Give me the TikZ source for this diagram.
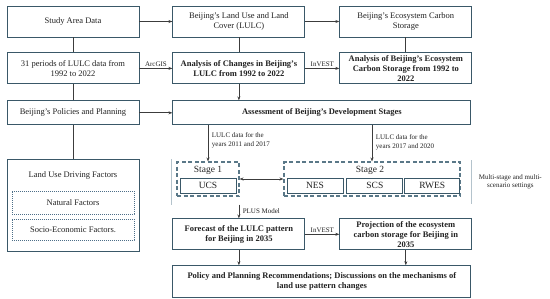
\documentclass[tikz,border=0pt]{standalone}
\usepackage{fontspec}
\setmainfont{Liberation Serif}
\usetikzlibrary{arrows.meta, positioning}
\definecolor{boxLine}{HTML}{3A5868}
\definecolor{stageLine}{HTML}{5A7888}
\definecolor{frameLine}{HTML}{B4C3CC}
\definecolor{factorLine}{HTML}{4D6F88}
\definecolor{arrowGray}{HTML}{3C3C3C}
\definecolor{textGray}{HTML}{222222}

\begin{document}
\begin{tikzpicture}[
    x=1pt, y=-1pt,
    node distance=15pt and 33pt,
    box/.style={
        draw=boxLine, line width=0.9pt, fill=white, minimum width=132pt, minimum height=31pt,
        inner xsep=1.5pt, inner ysep=0.5pt, align=center, font=\fontsize{8.5}{10}\selectfont, text=textGray
    },
    boldbox/.style={box, font=\fontsize{8.5}{10}\selectfont\bfseries},
    plain/.style={font=\fontsize{8.5}{10}\selectfont, text=textGray, inner sep=1.5pt},
    lbl/.style={font=\fontsize{7}{8.6}\selectfont, text=textGray, inner sep=1.5pt},
    stagebox/.style={draw=stageLine, line width=1.1pt, dash pattern=on 4pt off 2.5pt, minimum width=62pt, minimum height=34pt},
    stagelbl/.style={font=\fontsize{9.5}{10}\selectfont, text=textGray, inner sep=1pt},
    scen/.style={box, minimum width=56pt, minimum height=15pt, font=\fontsize{9.5}{10}\selectfont},
    factor/.style={
        draw=factorLine, line width=0.7pt, dash pattern=on 1.2pt off 0.8pt, minimum width=122pt,
        align=center, font=\fontsize{8.5}{10}\selectfont, text=textGray
    },
    link/.style={draw=arrowGray, line width=0.8pt},
    arr/.style={link, -{Stealth[length=4pt, width=3pt]}},
    arrboth/.style={link, {Stealth[length=4pt, width=3pt]}-{Stealth[length=4pt, width=3pt]}}
]
    \useasboundingbox (0,0) rectangle (550,298);

    \node[box] (study) at (73,21.5) {Study Area Data};
    \node[box, right=of study] (lulc) {Beijing's Land Use and Land\\Cover (LULC)};
    \node[box, right=34pt of lulc] (carbon) {Beijing's Ecosystem Carbon\\Storage};
    \node[box, below=of study] (periods) {31 periods of LULC data from\\1992 to 2022};
    \node[boldbox, below=of lulc] (changes) {Analysis of Changes in Beijing's\\LULC from 1992 to 2022};
    \node[boldbox, below=of carbon] (ecoanalysis) {Analysis of Beijing's Ecosystem\\Carbon Storage from 1992 to\\2022};
    \node[box, minimum height=24pt, below=16pt of periods] (policies) {Beijing's Policies and Planning};
    \node[boldbox, minimum width=298pt, minimum height=24pt, below=16pt of changes.south west, anchor=north west] (assess) {Assessment of Beijing's Development Stages};

    \node[box, minimum height=92pt, below=34pt of policies] (drivers) {};
    \node[plain] (drvtitle) at (73,175) {Land Use Driving Factors};
    \node[factor, minimum height=23pt] (natural) at (73,202.5) {Natural Factors};
    \node[factor, minimum height=21pt] (socio) at (73,229.5) {Socio-Economic Factors.};

    \node[draw=frameLine, line width=0.4pt, double, double distance=0.7pt, minimum width=300pt, minimum height=45pt, below=34pt of assess] (frame) {};
    \node[stagebox] (stage1) at (208,179) {};
    \node[stagebox, minimum width=176pt] (stage2) at (372,179) {};
    \node[stagelbl] (stage1lbl) at (208,170.5) {Stage 1};
    \node[stagelbl] (stage2lbl) at (370,170.5) {Stage 2};
    \node[scen] (ucs) at (208,185.5) {UCS};
    \node[scen] (nes) at (315,185.5) {NES};
    \node[scen, right=3pt of nes] (scs) {SCS};
    \node[scen, right=1pt of scs, minimum width=55pt] (rwes) {RWES};
    \node[lbl, align=center, right=5pt of frame] (settings) {Multi-stage and multi-\\scenario settings};

    \node[boldbox, below=134pt of changes] (forecast) {Forecast of the LULC pattern\\for Beijing in 2035};
    \node[boldbox, right=34pt of forecast] (projection) {Projection of the ecosystem\\carbon storage for Beijing in\\2035};
    \node[boldbox, minimum width=298pt, minimum height=32pt, below=15pt of forecast.south west, anchor=north west] (policy) {Policy and Planning Recommendations; Discussions on the mechanisms of\\land use pattern changes};

    \draw[link] (study) -- (periods);
    \draw[link] (periods) -- (policies);
    \draw[link] (policies) -- (drivers);
    \draw[link] (lulc) -- (changes);
    \draw[link] (carbon) -- (ecoanalysis);

    \draw[arr] (study) -- (lulc);
    \draw[arr] (lulc) -- (carbon);
    \draw[arr] (periods) -- node[lbl, above] {ArcGIS} (changes);
    \draw[arr] (changes) -- node[lbl, above] {InVEST} (ecoanalysis);
    \draw[arr] (changes.south) -- (changes.south |- assess.north);
    \draw[arr] (policies) -- (assess);

    \draw[arr] (assess.south -| stage1.north) -- node[lbl, right, align=left, pos=0.42, xshift=2pt] {LULC data for the\\years 2011 and 2017} (stage1.north);
    \draw[arr] (assess.south -| stage2.north) -- node[lbl, right, align=left, pos=0.47, xshift=2pt] {LULC data for the\\years 2017 and 2020} (stage2.north);
    \draw[arrboth] (stage1) -- (stage2);

    \draw[arr] (frame.south -| forecast.north) -- node[lbl, right, xshift=2pt] {PLUS Model} (forecast.north);
    \draw[arr] (forecast) -- node[lbl, above] {InVEST} (projection);
    \draw[arr] (forecast.south) -- (forecast.south |- policy.north);
    \draw[arr] (projection.south) -- (projection.south |- policy.north);
\end{tikzpicture}
\end{document}
